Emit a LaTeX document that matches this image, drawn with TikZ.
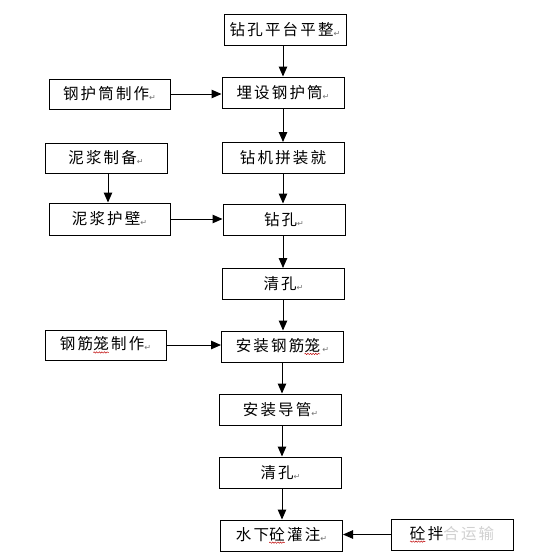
\documentclass[tikz,border=0pt]{standalone}
\usepackage{fontspec}
\setmainfont{Noto Sans CJK SC}[LetterSpace=14]
\newfontfamily\symfont{DejaVu Sans}
\usetikzlibrary{arrows.meta,decorations.pathmorphing}
\newcommand{\parmk}{{\symfont\fontsize{8}{9}\selectfont\color{black!55}\raisebox{-1pt}{↵}}}
\newcommand{\sqg}[1]{\begin{tikzpicture}[baseline=(q.base)]\node[draw=none,inner sep=0pt,outer sep=0pt,minimum width=0pt,minimum height=0pt](q){#1};\draw[red!75!black, line width=0.45pt, decorate, decoration={snake,amplitude=0.7pt,segment length=2.6pt}] ([yshift=-1.5pt]q.south west) -- ([yshift=-1.5pt]q.south east);\end{tikzpicture}\hspace{2.2pt}}
\tikzset{
  box/.style={draw, line width=1pt, minimum width=122pt, minimum height=31pt, inner sep=0pt,
    font=\fontsize{15.5}{18}\selectfont},
  arr/.style={line width=1pt, -{Triangle[length=10pt,width=8.5pt]}}
}
\begin{document}
\begin{tikzpicture}[x=1pt,y=-1pt]
\useasboundingbox[fill=white] (0,0) rectangle (550,560);
\node[box] (n1) at (285,29.5) {钻孔平台平整\parmk};
\node[box] (n2) at (283,92.5) {埋设钢护筒\parmk};
\node[box] (n3) at (283,158) {钻机拼装就};
\node[box] (n4) at (284,219.5) {钻孔\parmk};
\node[box] (n5) at (283.5,284) {清孔\parmk};
\node[box] (n6) at (282.5,346.5) {安装钢筋\sqg{笼}\parmk};
\node[box] (n7) at (280.5,409.5) {安装导管\parmk};
\node[box] (n8) at (280.5,472.5) {清孔\parmk};
\node[box] (n9) at (281.5,535.5) {水下\sqg{砼}灌注\parmk};
\node[box] (r1) at (452,534.5) {\sqg{砼}拌{\color{black!18}合运输}};
\node[box, minimum width=121pt, minimum height=30pt] (l1) at (109.5,94) {钢护筒制作\parmk};
\node[box, minimum height=30pt] (l2) at (106,158) {泥浆制备\parmk};
\node[box, minimum width=121pt, minimum height=32pt] (l3) at (109.5,219) {泥浆护壁\parmk};
\node[box, minimum width=121pt, minimum height=30pt] (l4) at (105.5,345) {钢筋\sqg{笼}制作\parmk};
\draw[arr] (n1.south -| 283,0) -- (n2.north -| 283,0);
\draw[arr] (n2.south -| 283,0) -- (n3.north -| 283,0);
\draw[arr] (n3.south -| 283,0) -- (n4.north -| 283,0);
\draw[arr] (n4.south -| 283,0) -- (n5.north -| 283,0);
\draw[arr] (n5.south -| 283,0) -- (n6.north -| 283,0);
\draw[arr] (n6.south -| 282,0) -- (n7.north -| 282,0);
\draw[arr] (n7.south -| 282,0) -- (n8.north -| 282,0);
\draw[arr] (n8.south -| 282,0) -- (n9.north -| 282,0);
\draw[arr] (l1.east) -- (l1.east -| n2.west);
\draw[arr] (l2.south -| 108,0) -- (l3.north -| 108,0);
\draw[arr] (l3.east) -- (l3.east -| n4.west);
\draw[arr] (l4.east) -- (l4.east -| n6.west);
\draw[arr] (r1.west) -- (r1.west -| n9.east);
\end{tikzpicture}
\end{document}
